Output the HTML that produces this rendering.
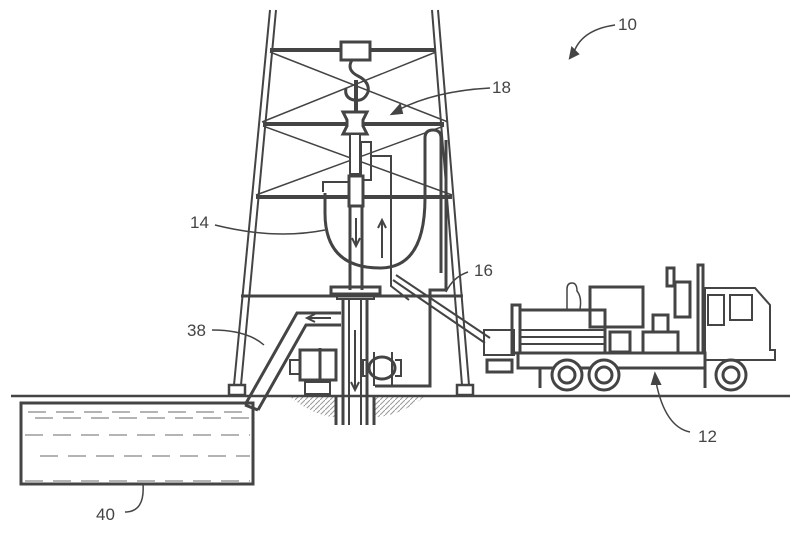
<!DOCTYPE html>
<html><head><style>body{margin:0;background:#fff}svg{display:block}</style></head><body>
<svg width="800" height="533" viewBox="0 0 800 533" xmlns="http://www.w3.org/2000/svg" font-family="Liberation Sans, sans-serif">
<defs><pattern id="h" width="5" height="5" patternUnits="userSpaceOnUse"><path d="M0 5 L5 0" stroke="#999" stroke-width="1"/></pattern></defs>
<path d="M290 397 h46 v20 q-20 0 -46 -20z M374 397 h50 q-26 20 -50 20z" fill="url(#h)"/>
<g stroke="#444" fill="none" stroke-width="2">
<line x1="270" y1="10" x2="234" y2="385"/><line x1="276" y1="10" x2="241" y2="385"/>
<line x1="432" y1="10" x2="462" y2="385"/><line x1="438" y1="10" x2="469" y2="385"/>
<line x1="270" y1="50" x2="436" y2="50" stroke-width="4"/>
<line x1="263" y1="124" x2="444" y2="124" stroke-width="4"/>
<line x1="256" y1="197" x2="452" y2="197" stroke-width="4"/>
<line x1="241" y1="296" x2="463" y2="296" stroke-width="3"/>
<line x1="270" y1="52" x2="448" y2="122" stroke-width="1.5"/><line x1="436" y1="52" x2="262" y2="122" stroke-width="1.5"/>
<line x1="263" y1="126" x2="452" y2="195" stroke-width="1.5"/><line x1="444" y1="126" x2="256" y2="195" stroke-width="1.5"/>
<rect x="341" y="42" width="29" height="18" fill="#fff" stroke-width="3"/>
<path d="M352 60 q-6 10 6 16 q12 6 10 16 q-4 10 -14 8 q-10 -2 -8 -12" stroke-width="3"/>
<line x1="356" y1="80" x2="356" y2="112" stroke-width="4"/>
<path d="M343 112 h24 l-4 8 v6 l4 8 h-24 l4 -8 v-6z" fill="#fff" stroke-width="3"/>
<rect x="350" y="134" width="10" height="40" fill="#fff"/>
<rect x="361" y="142" width="10" height="38" stroke-width="2"/>
<path d="M371 156 h20 v130 l18 14"/>
<rect x="349" y="176" width="14" height="30" fill="#fff" stroke-width="3"/>
<path d="M349 182 h-26 v10"/>
<path d="M325 193 v20 q0 55 55 55 q45 0 45 -70 v-60 q0 -8 8 -8 q8 0 8 8 v135" stroke-width="3"/>
<line x1="446" y1="140" x2="446" y2="290" stroke-width="3"/>
<path d="M446 290 h-16 v96 h-55" stroke-width="3"/>
<line x1="350" y1="206" x2="350" y2="290" stroke-width="3"/><line x1="362" y1="206" x2="362" y2="290" stroke-width="3"/>
<path d="M356 218 v26 m-4 -6 l4 8 l4 -8" stroke-width="2"/>
<path d="M382 258 v-36 m-4 6 l4 -8 l4 8" stroke-width="2"/>
<rect x="331" y="287" width="49" height="7" stroke-width="3"/>
<rect x="337" y="294" width="37" height="5" stroke-width="2"/>
<line x1="343" y1="299" x2="343" y2="425" stroke-width="3"/><line x1="367" y1="299" x2="367" y2="425" stroke-width="3"/>
<line x1="349" y1="299" x2="349" y2="425"/><line x1="361" y1="299" x2="361" y2="425"/>
<line x1="336" y1="396" x2="336" y2="425" stroke-width="3"/><line x1="374" y1="396" x2="374" y2="425" stroke-width="3"/>
<path d="M355 330 v60 m-4 -8 l4 8 l4 -8" stroke-width="2"/>
<path d="M245 405 L297 313 H341 M258 410 L306 325 H341" stroke-width="3"/>
<line x1="245" y1="405" x2="258" y2="410" stroke-width="3"/>
<path d="M331 318 h-22 m6 -4 l-8 4 l8 4" stroke-width="2"/>
<rect x="300" y="350" width="36" height="30" stroke-width="3"/>
<rect x="290" y="360" width="10" height="14" stroke-width="2"/>
<line x1="320" y1="348" x2="320" y2="382" stroke-width="3"/>
<rect x="305" y="382" width="25" height="12" stroke-width="2"/>
<ellipse cx="382" cy="368" rx="13" ry="11" stroke-width="3"/>
<path d="M374 352 v34 M392 352 v34 M367 360 h-4 v16 h4 M395 360 h6 v16 h-6" stroke-width="2"/>
<rect x="229" y="385" width="16" height="10" stroke-width="2.5"/>
<rect x="457" y="385" width="16" height="10" stroke-width="2.5"/>
<line x1="393" y1="280" x2="485" y2="343" stroke-width="2"/><line x1="396" y1="275" x2="490" y2="338" stroke-width="2"/>
<line x1="11" y1="396" x2="790" y2="396" stroke-width="2.5"/>
<rect x="21" y="403" width="232" height="81" stroke-width="3"/>
<g stroke-width="1.2" stroke="#888" stroke-dasharray="18 10"><line x1="28" y1="412" x2="250" y2="412"/><line x1="35" y1="418" x2="250" y2="418"/><line x1="25" y1="435" x2="250" y2="435"/><line x1="40" y1="456" x2="250" y2="456"/><line x1="25" y1="481" x2="250" y2="481"/></g>
<rect x="518" y="353" width="187" height="15" stroke-width="3"/>
<rect x="512" y="305" width="8" height="48" stroke-width="3"/>
<rect x="520" y="310" width="85" height="43" stroke-width="3"/>
<path d="M520 330 h85 M520 337 h85 M520 344 h85" stroke-width="2"/>
<rect x="590" y="287" width="53" height="40" stroke-width="3"/>
<rect x="610" y="332" width="20" height="20" stroke-width="3"/>
<rect x="643" y="332" width="35" height="21" stroke-width="3"/>
<rect x="653" y="315" width="15" height="17" stroke-width="3"/>
<rect x="675" y="282" width="15" height="35" stroke-width="3"/>
<rect x="667" y="268" width="7" height="18" stroke-width="3"/>
<rect x="698" y="265" width="5" height="88" stroke-width="3"/>
<path d="M705 353 V288 H755 L770 305 V350 H775 V360 H705" stroke-width="2"/>
<rect x="730" y="295" width="22" height="25" stroke-width="2"/>
<rect x="708" y="295" width="16" height="30" stroke-width="2"/>
<rect x="484" y="330" width="30" height="25" stroke-width="2"/>
<rect x="487" y="360" width="25" height="12" stroke-width="3"/>
<path d="M567 309 v-20 q0 -6 5 -6 q5 0 5 8 q5 6 3 18" stroke-width="1.5"/>
<g stroke-width="3"><circle cx="567" cy="375" r="15" fill="#fff"/><circle cx="567" cy="375" r="8"/>
<circle cx="604" cy="375" r="15" fill="#fff"/><circle cx="604" cy="375" r="8"/>
<circle cx="731" cy="375" r="15" fill="#fff"/><circle cx="731" cy="375" r="8"/></g>
<line x1="540" y1="368" x2="540" y2="388" stroke-width="3"/><line x1="705" y1="368" x2="705" y2="388" stroke-width="3"/>
<path d="M215 225 q60 15 110 5" stroke-width="1.5"/>
<path d="M490 88 q-55 3 -92 22" stroke-width="1.5"/><path d="M392 114 l8 -9 l2 8z" fill="#444"/>
<path d="M468 272 q-15 5 -22 20" stroke-width="1.5"/>
<path d="M212 330 q35 0 52 15" stroke-width="1.5"/>
<path d="M615 25 q-35 5 -42 30" stroke-width="1.5"/><path d="M570 58 l2 -10 l6 6z" fill="#444"/>
<path d="M690 432 q-25 -5 -34 -50" stroke-width="1.5"/><path d="M655 374 l5 10 l-8 0z" fill="#444"/>
<path d="M125 512 q20 0 18 -28" stroke-width="1.5"/>
</g>
<g font-size="17" fill="#444">
<text x="618" y="30">10</text><text x="492" y="93">18</text><text x="190" y="228">14</text>
<text x="474" y="276">16</text><text x="187" y="336">38</text><text x="698" y="442">12</text><text x="96" y="520">40</text>
</g>
</svg>
</body></html>
